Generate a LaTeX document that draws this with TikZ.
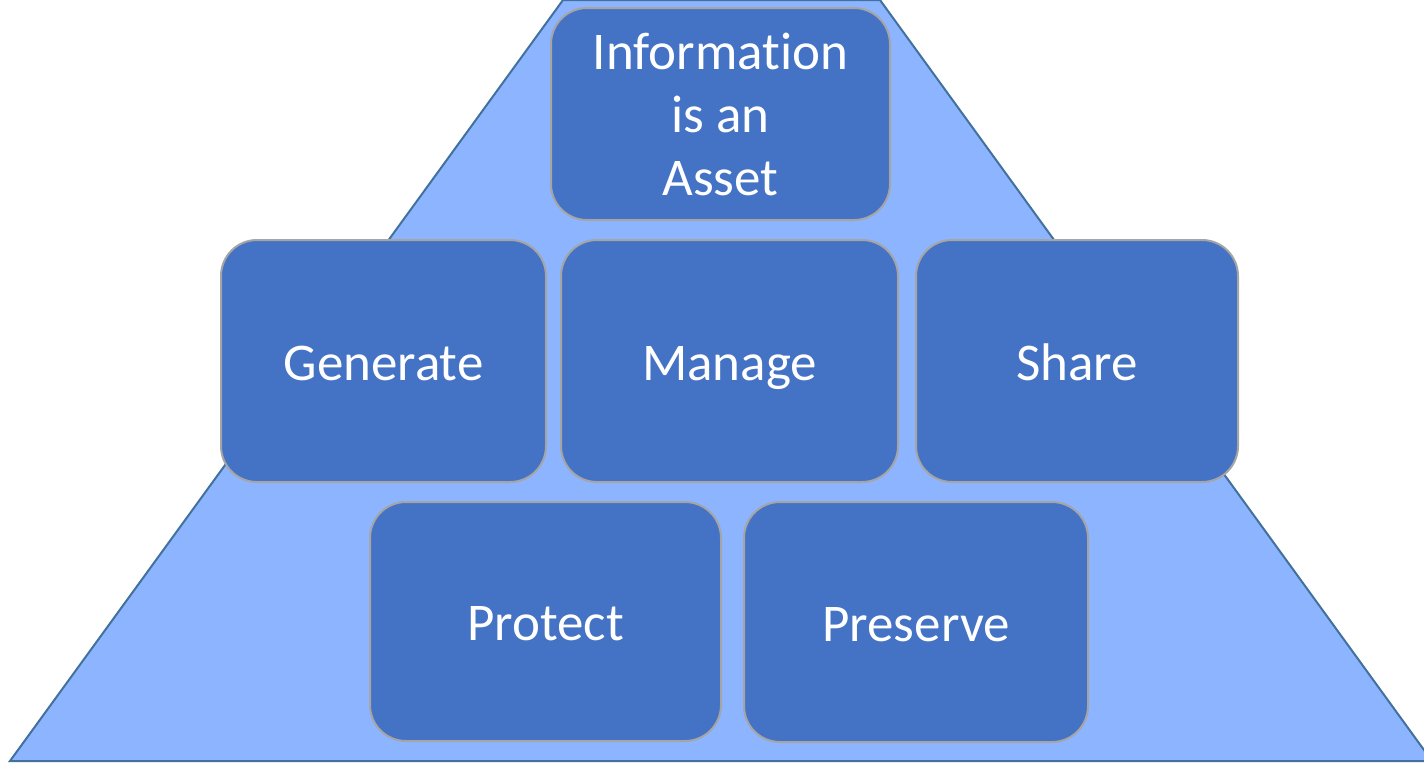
\documentclass[tikz,border=0pt]{standalone}
\usepackage{fontspec}
\setmainfont{Carlito}[Ligatures=CommonOff]
\begin{document}
\begin{tikzpicture}[x=1pt,y=-1pt,
  block/.style={draw=boxedge, line width=2pt, fill=boxfill, rounded corners=36pt,
    text=white, font=\fontsize{53}{63}\selectfont, align=center, inner sep=0pt},
  word/.style={block, text height=52pt, text depth=14pt},
  ]
\definecolor{boxfill}{HTML}{4472C4}
\definecolor{boxedge}{HTML}{A5A5A5}
\definecolor{pyrfill}{HTML}{8DB4FF}
\definecolor{pyredge}{HTML}{41719C}
\useasboundingbox (0,0) rectangle (1424,763);
% pyramid background, its apex cut off by the picture's top edge
\begin{scope}
  \clip (0,0) rectangle (1424,763);
  \draw[draw=pyredge, line width=2pt, fill=pyrfill]
    (10,761) -- (563,0) -- (880,0) -- (1432,761) -- cycle;
\end{scope}
% top block
\node[block, minimum width=339pt, minimum height=212pt] (asset) at (720.5,114)
  {Information\\is an\\Asset};
% middle row
\node[word, minimum width=325pt, minimum height=242pt] (generate) at (383.5,361) {Generate};
\node[word, minimum width=337pt, minimum height=242pt] (manage) at (729.5,361) {Manage};
\node[word, minimum width=322pt, minimum height=242pt] (share) at (1077,361) {Share};
% bottom row
\node[word, minimum width=351pt, minimum height=239pt] (protect) at (545.5,621.5) {Protect};
\node[word, minimum width=344pt, minimum height=240pt] (preserve) at (916,622) {Preserve};
\end{tikzpicture}
\end{document}
